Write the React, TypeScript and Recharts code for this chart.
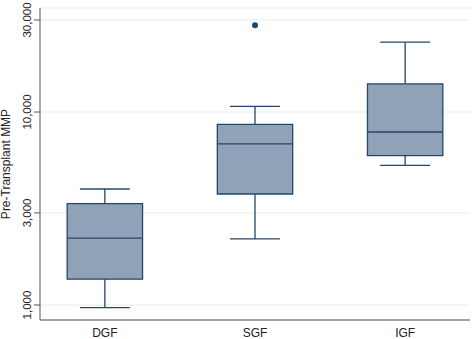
import {
	CartesianGrid,
	ComposedChart,
	ReferenceArea,
	ReferenceLine,
	Scatter,
	XAxis,
	YAxis,
} from "recharts";

const categories = ["DGF", "SGF", "IGF"];
const whiskerLow = [968, 2200, 5290];
const q1 = [1360, 3760, 5940];
const median = [2220, 6830, 7880];
const q3 = [3350, 8630, 14000];
const whiskerHigh = [3990, 10700, 23000];
const outlierGroup = ["SGF"];
const outlierValue = [28200];
const yTicks = [1000, 3000, 10000, 30000];

const BOX_FILL = "#8fa2b8";
const LINE = "#24466b";
const BOX_HALF = 0.251;
const CAP_HALF = 0.166;
const FONT = "Liberation Sans, Arial, sans-serif";

const outliers = outlierGroup.map((g, i) => ({
	x: categories.indexOf(g) + 1,
	y: outlierValue[i],
}));

const fmt = (v: number) => v.toLocaleString("en-US");

function YTick({ x, y, payload }: any) {
	const tx = x - 1;
	return (
		<text
			x={tx}
			y={y}
			transform={`rotate(-90 ${tx} ${y})`}
			textAnchor="middle"
			fontSize={11.5}
			fill="#222"
			fontFamily={FONT}
		>
			{fmt(payload.value)}
		</text>
	);
}

export default function App() {
	return (
		<div style={{ position: "fixed", left: 0, top: 0, background: "#fff" }}>
			<ComposedChart
				width={474}
				height={339}
				margin={{ top: 8, right: 4, bottom: 0, left: 0 }}
			>
				<CartesianGrid vertical={false} stroke="#ebebeb" strokeWidth={1} />
				<XAxis
					dataKey="x"
					type="number"
					domain={[0.568, 3.432]}
					allowDataOverflow
					ticks={[1, 2, 3]}
					tickFormatter={(i: number) => categories[i - 1]}
					tickLine={false}
					height={19}
					stroke="#555"
					tick={{ fill: "#222", fontSize: 12, fontFamily: FONT }}
				/>
				<YAxis
					dataKey="y"
					type="number"
					scale="log"
					domain={[836, 34600]}
					allowDataOverflow
					ticks={yTicks}
					width={40}
					stroke="#555"
					tickSize={6}
					tick={<YTick />}
					label={{
						content: ({ viewBox }: any) => (
							<text
								x={10}
								y={viewBox.y + viewBox.height / 2}
								transform={`rotate(-90 10 ${viewBox.y + viewBox.height / 2})`}
								textAnchor="middle"
								fontSize={12}
								fill="#222"
								fontFamily={FONT}
							>
								Pre-Transplant MMP
							</text>
						),
					}}
				/>
				{categories.map((c, i) => (
					<ReferenceLine
						key={`wl-${c}`}
						segment={[
							{ x: i + 1, y: whiskerLow[i] },
							{ x: i + 1, y: q1[i] },
						]}
						stroke={LINE}
						strokeWidth={1.3}
					/>
				))}
				{categories.map((c, i) => (
					<ReferenceLine
						key={`wh-${c}`}
						segment={[
							{ x: i + 1, y: q3[i] },
							{ x: i + 1, y: whiskerHigh[i] },
						]}
						stroke={LINE}
						strokeWidth={1.3}
					/>
				))}
				{categories.map((c, i) => (
					<ReferenceLine
						key={`cl-${c}`}
						segment={[
							{ x: i + 1 - CAP_HALF, y: whiskerLow[i] },
							{ x: i + 1 + CAP_HALF, y: whiskerLow[i] },
						]}
						stroke={LINE}
						strokeWidth={1.3}
					/>
				))}
				{categories.map((c, i) => (
					<ReferenceLine
						key={`ch-${c}`}
						segment={[
							{ x: i + 1 - CAP_HALF, y: whiskerHigh[i] },
							{ x: i + 1 + CAP_HALF, y: whiskerHigh[i] },
						]}
						stroke={LINE}
						strokeWidth={1.3}
					/>
				))}
				{categories.map((c, i) => (
					<ReferenceArea
						key={`box-${c}`}
						x1={i + 1 - BOX_HALF}
						x2={i + 1 + BOX_HALF}
						y1={q1[i]}
						y2={q3[i]}
						fill={BOX_FILL}
						fillOpacity={1}
						stroke={LINE}
						strokeWidth={1.3}
					/>
				))}
				{categories.map((c, i) => (
					<ReferenceLine
						key={`med-${c}`}
						segment={[
							{ x: i + 1 - BOX_HALF, y: median[i] },
							{ x: i + 1 + BOX_HALF, y: median[i] },
						]}
						stroke={LINE}
						strokeWidth={1.3}
					/>
				))}
				<Scatter
					data={outliers}
					fill="#1a476f"
					isAnimationActive={false}
					shape={(p: any) => <circle cx={p.cx} cy={p.cy} r={3} fill="#1a476f" />}
				/>
			</ComposedChart>
		</div>
	);
}
